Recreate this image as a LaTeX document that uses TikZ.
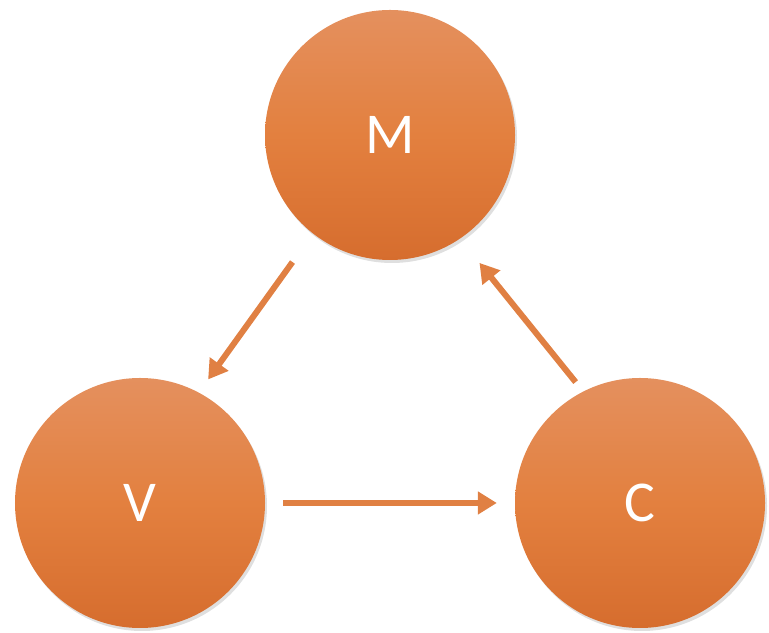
\documentclass[tikz,border=0pt]{standalone}
\usepackage{fontspec}
\setmainfont{Carlito}
\usetikzlibrary{arrows.meta,shadows}
\definecolor{otop}{HTML}{E4905E}
\definecolor{omid}{HTML}{E3803F}
\definecolor{obot}{HTML}{D66D2E}
\definecolor{arrc}{HTML}{E08043}
\begin{document}
\begin{tikzpicture}[x=1bp,y=1bp,
  ball/.style={circle,minimum size=250bp,inner sep=0pt,
    top color=otop,bottom color=obot,middle color=omid,
    drop shadow={opacity=0.25,shadow xshift=2bp,shadow yshift=-3bp},
    text=white,font=\fontsize{58}{60}\selectfont},
  arr/.style={draw=arrc,line width=6bp,
    -{Triangle[length=19bp,width=22bp]}}]
\useasboundingbox (0,0) rectangle (769,633);
\node[ball] (M) at (390,498) {M};
\node[ball] (V) at (140,130) {V};
\node[ball] (C) at (640,130) {C};
\draw[arr,shorten <=35bp,shorten >=16bp] (M.232) -- (V.62.5);
\draw[arr,shorten <=18bp,shorten >=18bp] (V.0) -- (C.180);
\draw[arr,shorten <=12bp,shorten >=31bp] (C.117) -- (M.304);
\end{tikzpicture}
\end{document}
